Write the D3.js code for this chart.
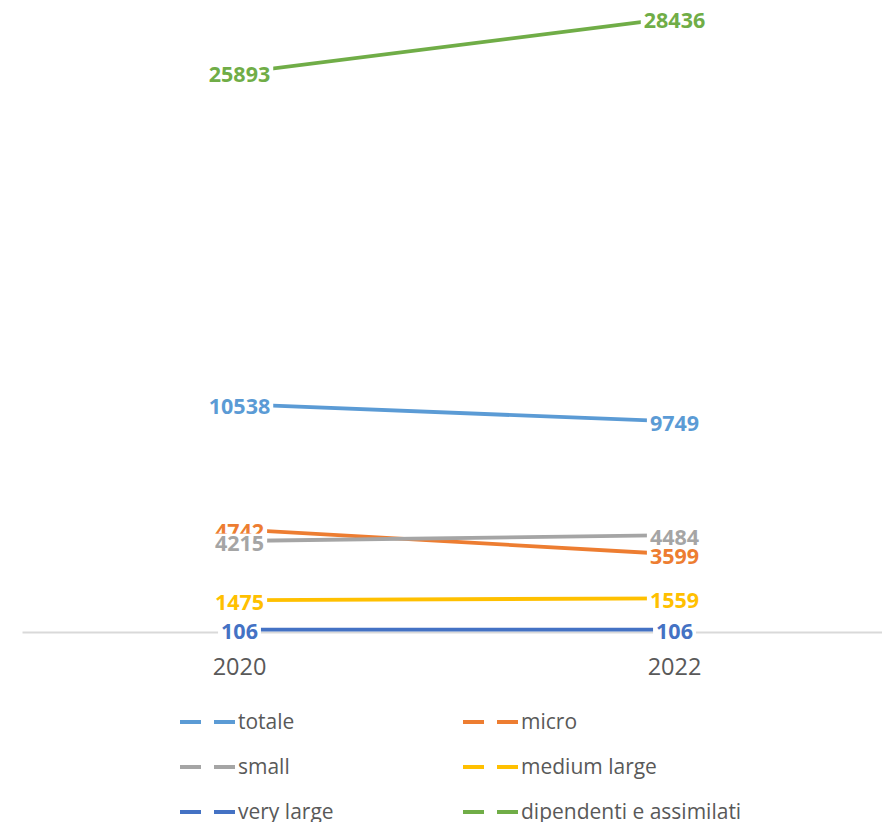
<!DOCTYPE html>
<html>
<head>
<meta charset="utf-8">
<script src="https://cdn.jsdelivr.net/npm/d3@7"></script>
<style>
  html, body { margin: 0; padding: 0; background: #fff; }
  svg { display: block; }
</style>
</head>
<body>
<svg id="chart" width="882" height="822"></svg>
<script>
// Categories (years) and series values
const years = ["2020", "2022"];
const seriesNames = ["totale", "micro", "small", "medium large", "very large", "dipendenti e assimilati"];
const seriesColors = ["#5B9BD5", "#ED7D31", "#A5A5A5", "#FFC000", "#4472C4", "#70AD47"];
const totale = [10538, 9749];
const micro = [4742, 3599];
const small = [4215, 4484];
const mediumLarge = [1475, 1559];
const veryLarge = [106, 106];
const dipendenti = [25893, 28436];
const yDomain = [0, 30000];

const seriesValues = [totale, micro, small, mediumLarge, veryLarge, dipendenti];
const series = seriesNames.map((name, i) => ({
  name,
  color: seriesColors[i],
  values: years.map((yr, j) => ({ year: yr, value: seriesValues[i][j], idx: j }))
}));

const svg = d3.select("#chart");
const font = "'Open Sans', 'Noto Sans', sans-serif";

const x = d3.scaleBand().domain(years).range([22, 892]).padding(0);
const y = d3.scaleLinear().domain(yDomain).range([632, 632 - 30000 * 0.0216]);
const cx = d => x(d) + x.bandwidth() / 2;

// Category axis along the zero line
const axis = svg.append("g")
  .attr("transform", `translate(0,${y(0)})`)
  .call(d3.axisBottom(x).tickSize(0).tickPadding(0));
axis.select(".domain").attr("stroke", "#D9D9D9").attr("stroke-width", 2);
axis.selectAll(".tick text")
  .attr("font-family", font)
  .attr("font-size", 23.5)
  .attr("fill", "#595959")
  .attr("dy", 0)
  .attr("y", 43);

// Series lines
const line = d3.line().x(d => cx(d.year)).y(d => y(d.value));
svg.append("g").selectAll("path")
  .data(series)
  .join("path")
  .attr("d", s => line(s.values))
  .attr("fill", "none")
  .attr("stroke", s => s.color)
  .attr("stroke-width", 3.8)
  .attr("stroke-linecap", "butt");

// Value labels with white background, centred on each point
const labelLayer = svg.append("g");
series.forEach(s => {
  s.values.forEach(d => {
    const g = labelLayer.append("g")
      .attr("transform", `translate(${cx(d.year)},${y(d.value)})`);
    const rect = g.append("rect").attr("fill", "#fff");
    const t = g.append("text")
      .attr("text-anchor", "middle")
      .attr("dy", "0.36em")
      .attr("y", 2)
      .attr("font-family", font)
      .attr("font-size", 21.5)
      .attr("font-weight", 700)
      .attr("fill", s.color)
      .text(d.value);
    const b = t.node().getBBox();
    rect.attr("x", b.x - 3).attr("y", b.y + 6).attr("width", b.width + 6).attr("height", b.height - 10);
  });
});

// Legend: two columns, three rows
const legendCols = [180, 463];
const legendRows = [722, 767, 812];
const legend = svg.append("g");
series.forEach((s, i) => {
  const lx = legendCols[i % 2];
  const ly = legendRows[Math.floor(i / 2)];
  const g = legend.append("g").attr("transform", `translate(${lx},${ly})`);
  g.append("line").attr("x1", 0).attr("x2", 21).attr("y1", 0).attr("y2", 0)
    .attr("stroke", s.color).attr("stroke-width", 4);
  g.append("line").attr("x1", 34).attr("x2", 55).attr("y1", 0).attr("y2", 0)
    .attr("stroke", s.color).attr("stroke-width", 4);
  g.append("text")
    .attr("x", 58)
    .attr("dy", "0.35em")
    .attr("font-family", font)
    .attr("font-size", 21)
    .attr("fill", "#595959")
    .text(s.name);
});
</script>
</body>
</html>
